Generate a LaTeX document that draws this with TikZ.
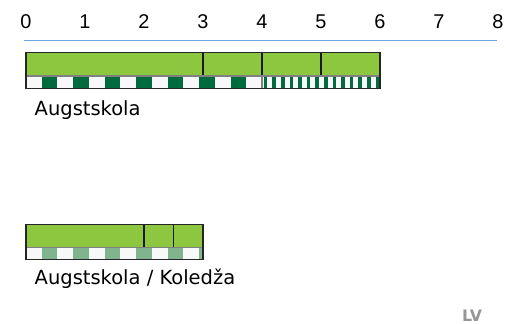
\documentclass[tikz,border=0pt]{standalone}
\usepackage{fontspec}
\setmainfont{DejaVu Sans}
\newfontfamily\axisfont{Liberation Sans}
\usetikzlibrary{positioning}

\definecolor{barGreen}{RGB}{141,198,63}
\definecolor{cellDark}{RGB}{0,107,63}
\definecolor{cellLight}{RGB}{128,180,142}
\definecolor{cellWhite}{RGB}{248,248,248}
\definecolor{axisBlue}{RGB}{105,168,228}
\definecolor{tagGray}{RGB}{150,150,150}

\begin{document}
\begin{tikzpicture}[
    tick/.style={anchor=base, inner sep=0pt, font=\axisfont\fontsize{9.6}{11}\selectfont},
    barlabel/.style={anchor=base west, inner sep=0pt, font=\fontsize{9.4}{11}\selectfont},
    tag/.style={anchor=base west, inner sep=0pt, text=tagGray, font=\bfseries\fontsize{7.6}{9}\selectfont},
    outline/.style={draw=black!85, line width=0.5pt},
    divider/.style={draw=black!90, line width=0.6pt}
]
\useasboundingbox (-0.441,0) rectangle (8.136,-5.492);

% axis
\foreach \k in {0,...,8}
    \node[tick] (t\k) at (\k,-0.48) {\k};
\draw[axisBlue, line width=0.7pt] (-0.034,-0.683) -- (7.983,-0.683);

% bar one
\fill[barGreen] (0,-0.893) rectangle (6,-1.288);
\fill[cellWhite] (0,-1.288) rectangle (6,-1.503);
\foreach \i in {1,3,...,13}
    \fill[cellDark] ({\i*4/15},-1.288) rectangle ({(\i+1)*4/15},-1.503);
\foreach \k in {0,...,13}
    \fill[cellDark] ({4.03+\k*0.1458},-1.288) rectangle +(0.061,-0.215);
\foreach \x in {3,4,5}
    \draw[divider] (\x,-0.893) -- (\x,-1.288);
\draw[gray, line width=0.5pt] (4,-1.288) -- (4,-1.503);
\draw[gray, line width=0.5pt] (0,-1.288) -- (6,-1.288);
\draw[outline] (0,-0.893) rectangle (6,-1.503);
\node[barlabel] (schoolone) at (0.14,-1.961) {Augstskola};

% bar two
\fill[barGreen] (0,-3.802) rectangle (3,-4.198);
\fill[cellWhite] (0,-4.198) rectangle (3,-4.395);
\begin{scope}
    \clip (0,-4.198) rectangle (3,-4.395);
    \foreach \i in {1,3,...,11}
        \fill[cellLight] ({\i*4/15},-4.198) rectangle ({(\i+1)*4/15},-4.395);
\end{scope}
\foreach \x in {2,2.5}
    \draw[divider] (\x,-3.802) -- (\x,-4.198);
\draw[gray, line width=0.5pt] (0,-4.198) -- (3,-4.198);
\draw[outline] (0,-3.802) rectangle (3,-4.395);
\node[barlabel] (schooltwo) at (0.14,-4.83) {Augstskola / Koledža};

\node[tag] (lang) at (7.385,-5.458) {LV};
\end{tikzpicture}
\end{document}
